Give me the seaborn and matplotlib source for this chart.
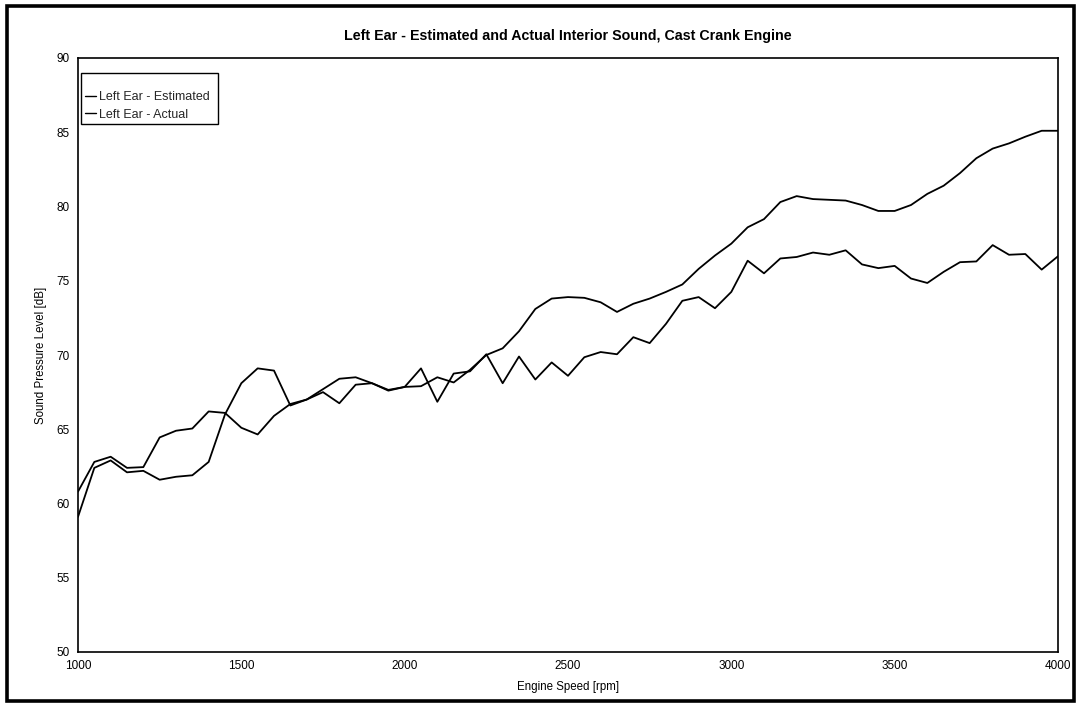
import matplotlib
matplotlib.use("Agg")
import matplotlib.pyplot as plt
import pandas as pd
import seaborn as sns
from matplotlib.patches import Rectangle

# Engine speed sweep (rpm) and sound pressure levels (dB) at the left ear
engine_speed = list(range(1000, 4001, 50))

left_ear_estimated = [
    59.1, 62.4, 62.9, 62.1, 62.2, 61.6, 61.8, 61.9, 62.8, 66.0,
    68.1, 69.1, 68.95, 66.6, 67.0, 67.7, 68.4, 68.5, 68.1, 67.6,
    67.85, 67.9, 68.5, 68.15, 69.0, 70.0, 70.45, 71.6, 73.1, 73.8,
    73.9, 73.85, 73.55, 72.9, 73.45, 73.8, 74.25, 74.75, 75.8, 76.7,
    77.5, 78.6, 79.15, 80.3, 80.7, 80.5, 80.45, 80.4, 80.1, 79.7,
    79.7, 80.1, 80.85, 81.4, 82.25, 83.25, 83.9, 84.25, 84.7, 85.1,
    85.1,
]

left_ear_actual = [
    60.8, 62.8, 63.15, 62.4, 62.45, 64.45, 64.9, 65.05, 66.2, 66.1,
    65.1, 64.65, 65.9, 66.7, 67.0, 67.5, 66.75, 68.0, 68.1, 67.65,
    67.85, 69.1, 66.85, 68.75, 68.9, 70.05, 68.1, 69.9, 68.35, 69.5,
    68.6, 69.85, 70.2, 70.05, 71.2, 70.8, 72.1, 73.65, 73.9, 73.15,
    74.25, 76.35, 75.5, 76.5, 76.6, 76.9, 76.75, 77.05, 76.1, 75.85,
    76.0, 75.15, 74.85, 75.6, 76.25, 76.3, 77.4, 76.75, 76.8, 75.75,
    76.65,
]

series_names = ["Left Ear - Estimated", "Left Ear - Actual"]
x_ticks = [1000, 1500, 2000, 2500, 3000, 3500, 4000]
y_ticks = [50, 55, 60, 65, 70, 75, 80, 85, 90]

title = "Left Ear - Estimated and Actual Interior Sound, Cast Crank Engine"
x_label = "Engine Speed [rpm]"
y_label = "Sound Pressure Level [dB]"

df = pd.concat([
    pd.DataFrame({"rpm": engine_speed, "spl": left_ear_estimated, "series": series_names[0]}),
    pd.DataFrame({"rpm": engine_speed, "spl": left_ear_actual, "series": series_names[1]}),
], ignore_index=True)

sns.set_theme(style="white")
plt.rcParams["font.family"] = ["Liberation Sans", "DejaVu Sans"]

W, H = 1078, 703
fig = plt.figure(figsize=(W / 100, H / 100), dpi=100)
fig.patch.set_facecolor("white")

left, right, top, bottom = 78, 1058, 58, 652
ax = fig.add_axes([left / W, 1 - bottom / H, (right - left) / W, (bottom - top) / H])

sns.lineplot(
    data=df, x="rpm", y="spl", hue="series", hue_order=series_names,
    palette=["black", "black"], linewidth=1.3, estimator=None, ax=ax,
)

ax.set_xlim(1000, 4000)
ax.set_ylim(50, 90)
ax.set_xticks(x_ticks)
ax.set_yticks(y_ticks)
ax.tick_params(axis="both", direction="out", length=3.5, width=1, color="black",
               labelsize=8.5, labelcolor="black")
ax.tick_params(axis="x", pad=2)
ax.tick_params(axis="y", pad=2.5)
for s in ax.spines.values():
    s.set_visible(True)
    s.set_color("black")
    s.set_linewidth(1.2)

ax.set_xlabel(x_label, fontsize=8.3, color="black")
ax.set_ylabel(y_label, fontsize=8.3, color="black")
ax.xaxis.set_label_coords(0.5, -0.048)
ax.yaxis.set_label_coords(-0.032, 0.5)
ax.set_title(title, fontsize=10.3, fontweight="bold", color="black", pad=13)

# Legend entries without a frame, boxed by a separate rectangle
leg = ax.legend(
    loc="upper left", bbox_to_anchor=(85 / W, 1 - 91 / H),
    bbox_transform=fig.transFigure, borderaxespad=0, borderpad=0,
    fontsize=9, frameon=False, handlelength=0.9, handletextpad=0.2,
    labelspacing=0.45, title=None,
)
for line in leg.get_lines():
    line.set_linewidth(1.0)
fig.patches.append(Rectangle((81 / W, 1 - 124 / H), (218 - 81) / W, (124 - 73) / H,
                             transform=fig.transFigure, fill=False,
                             edgecolor="black", linewidth=1.0, zorder=5))

# Outer frame around the whole figure
fig.patches.append(Rectangle((7 / W, 1 - 701 / H), (1074 - 7) / W, (701 - 6) / H,
                             transform=fig.transFigure, fill=False,
                             edgecolor="black", linewidth=2.6))

fig.savefig("out.png", dpi=100)
